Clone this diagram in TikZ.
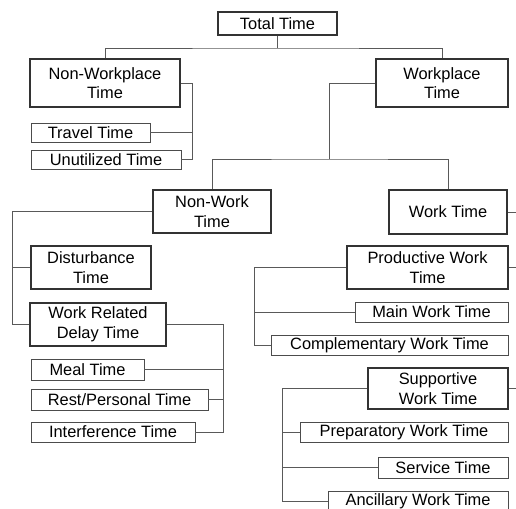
\documentclass[tikz,border=0pt]{standalone}
\usepackage{fontspec}
\setmainfont{Liberation Sans}
\tikzstyle{bigbox}=[draw=black!80, line width=1.4pt, align=center, inner sep=0pt, font=\fontsize{16.4}{19.5}\selectfont]
\tikzstyle{smallbox}=[draw=black!70, line width=0.9pt, align=center, inner sep=0pt, font=\fontsize{16.4}{19.5}\selectfont]
\tikzstyle{link}=[draw=black!65, line width=0.9pt]

\begin{document}
\begin{tikzpicture}[x=1pt,y=-1pt]
\clip (0,0) rectangle (516,508);
% top level
\node[bigbox, minimum width=119pt, minimum height=23pt] (total) at (277.5,23.5) {Total Time};
\node[bigbox, minimum width=150pt, minimum height=48pt] (nonwp) at (105,83) {Non-Workplace\\Time};
\node[bigbox, minimum width=132pt, minimum height=48pt] (wp) at (442,83) {Workplace\\Time};
\node[smallbox, minimum width=119pt, minimum height=19pt] (travel) at (90.5,132.5) {Travel Time};
\node[smallbox, minimum width=150pt, minimum height=19pt] (unutil) at (106,159.5) {Unutilized Time};
% workplace
\node[bigbox, minimum width=118pt, minimum height=43pt] (nonwork) at (212,211.5) {Non-Work\\Time};
\node[bigbox, minimum width=118pt, minimum height=44pt] (work) at (448,212) {Work Time};
% non-work
\node[bigbox, minimum width=120pt, minimum height=43pt] (disturb) at (91,267.5) {Disturbance\\Time};
\node[bigbox, minimum width=136pt, minimum height=43pt] (delay) at (98,324.5) {Work Related\\Delay Time};
\node[smallbox, minimum width=113pt, minimum height=21pt] (meal) at (87.5,369.5) {Meal Time};
\node[smallbox, minimum width=177pt, minimum height=21pt] (rest) at (119.5,399.5) {Rest/Personal Time};
\node[smallbox, minimum width=164pt, minimum height=20pt] (interf) at (113,432) {Interference Time};
% work
\node[bigbox, minimum width=161pt, minimum height=43pt] (prod) at (427.5,267.5) {Productive Work\\Time};
\node[smallbox, minimum width=153pt, minimum height=20pt] (mainwork) at (431.5,312) {Main Work Time};
\node[smallbox, minimum width=237pt, minimum height=20pt] (compl) at (389.5,345) {Complementary Work Time};
\node[bigbox, minimum width=140pt, minimum height=41pt] (supp) at (438,388.5) {Supportive\\Work Time};
\node[smallbox, minimum width=208pt, minimum height=20pt] (prep) at (404,432) {Preparatory Work Time};
\node[smallbox, minimum width=130pt, minimum height=21pt] (service) at (443,467.5) {Service Time};
\node[smallbox, minimum width=180pt, minimum height=20pt] (ancil) at (418,501) {Ancillary Work Time};

\coordinate (tbus) at (277.5,48);
\coordinate (nwpbus) at (192,159.5);
\coordinate (wpbus) at (329,159);
\coordinate (nwkbus) at (12,324.5);
\coordinate (dlbus) at (223,432);
\coordinate (wkbus) at (526,388.5);
\coordinate (prbus) at (254,345);
\coordinate (spbus) at (282,501);

\draw[link] (total) -- (tbus);
\draw[link] (nonwp.north) |- (tbus) -| (wp.north);
\draw[link] (nonwp.east) -| (nwpbus) -- (unutil.east);
\draw[link] (travel.east) -- (travel.east -| nwpbus);
\draw[link] (wp.west) -| (wpbus);
\draw[link] (nonwork.north) |- (wpbus) -| (work.north);
\draw[link] (nonwork.west) -| (nwkbus) -- (delay.west);
\draw[link] (disturb.west) -- (disturb.west -| nwkbus);
\draw[link] (delay.east) -| (dlbus) -- (interf.east);
\draw[link] (meal.east) -- (meal.east -| dlbus);
\draw[link] (rest.east) -- (rest.east -| dlbus);
\draw[link] (work.east) -| (wkbus) -- (supp.east);
\draw[link] (prod.east) -- (prod.east -| wkbus);
\draw[link] (prod.west) -| (prbus) -- (compl.west);
\draw[link] (mainwork.west) -- (mainwork.west -| prbus);
\draw[link] (supp.west) -| (spbus) -- (ancil.west);
\draw[link] (prep.west) -- (prep.west -| spbus);
\draw[link] (service.west) -- (service.west -| spbus);
\end{tikzpicture}
\end{document}
